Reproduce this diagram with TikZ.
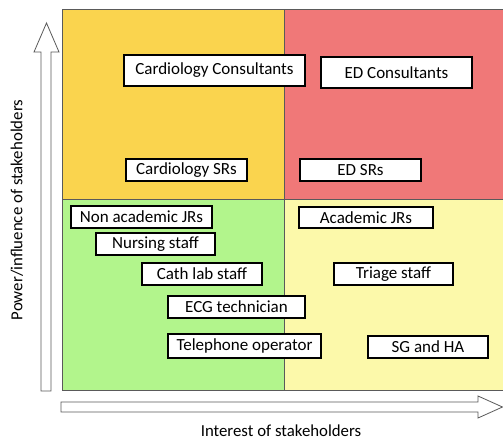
\documentclass[tikz,border=0pt]{standalone}
\usepackage{fontspec}
\setmainfont{Carlito}
\definecolor{qorange}{RGB}{250,212,78}
\definecolor{qred}{RGB}{240,120,120}
\definecolor{qgreen}{RGB}{178,245,140}
\definecolor{qyellow}{RGB}{252,249,170}
\definecolor{qline}{RGB}{90,90,90}
\begin{document}
\begin{tikzpicture}[x=1pt,y=-1pt,
  quad/.style={draw=qline,line width=0.8pt},
  sbox/.style={draw=black,line width=1.8pt,fill=white,inner sep=0pt,font=\fontsize{17}{20}\selectfont},
  bigarrow/.style={draw=qline,line width=0.8pt,fill=white,line join=miter},
  axlabel/.style={font=\fontsize{16.8}{20}\selectfont,inner sep=0pt}]
\useasboundingbox (0,0) rectangle (503,442);
\fill[white] (0,0) rectangle (503,442);
% quadrants
\filldraw[quad,fill=qorange] (62,9) rectangle (284,199);
\filldraw[quad,fill=qred] (284,9) rectangle (503,199);
\filldraw[quad,fill=qgreen] (62,199) rectangle (284,390);
\filldraw[quad,fill=qyellow] (284,199) rectangle (503,390);
% axes arrows
\filldraw[bigarrow] (41,391) -- (41,52) -- (34,52) -- (46.5,23) -- (59,52) -- (51,52) -- (51,391) -- cycle;
\filldraw[bigarrow] (61,402) -- (478,402) -- (478,396) -- (502.5,407) -- (478,418) -- (478,412) -- (61,412) -- cycle;
% axis labels
\node[axlabel,rotate=90] (ylab) at (17,210) {Power/influence of stakeholders};
\node[axlabel] (xlab) at (281,431) {Interest of stakeholders};
% stakeholder boxes
\node[sbox,minimum width=181pt,minimum height=31pt] (cc) at (214.5,70.5) {Cardiology Consultants};
\node[sbox,minimum width=151pt,minimum height=31pt] (edc) at (396.5,72.5) {ED Consultants};
\node[sbox,minimum width=121pt,minimum height=22pt] (csr) at (186.5,170) {Cardiology SRs};
\node[sbox,minimum width=121pt,minimum height=22pt] (edsr) at (360.5,170) {ED SRs};
\node[sbox,minimum width=141pt,minimum height=22pt] (najr) at (141.5,217) {Non academic JRs};
\node[sbox,minimum width=119pt,minimum height=22pt] (ns) at (155.5,244) {Nursing staff};
\node[sbox,minimum width=120pt,minimum height=22pt] (cls) at (202,274) {Cath lab staff};
\node[sbox,minimum width=137pt,minimum height=22pt] (ecg) at (236.5,307) {ECG technician};
\node[sbox,minimum width=153pt,minimum height=24pt] (tel) at (244.5,346) {Telephone operator};
\node[sbox,minimum width=134pt,minimum height=21pt] (ajr) at (366,217.5) {Academic JRs};
\node[sbox,minimum width=119pt,minimum height=22pt] (tri) at (393.5,274) {Triage staff};
\node[sbox,minimum width=120pt,minimum height=22pt] (sg) at (428,347) {SG and HA};
\end{tikzpicture}
\end{document}
